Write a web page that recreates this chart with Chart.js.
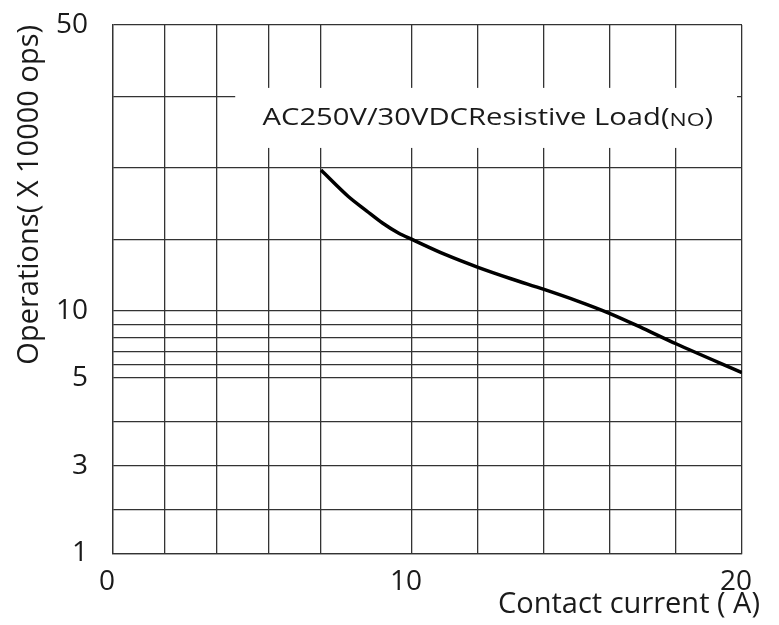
<!DOCTYPE html>
<html>
<head>
<meta charset="utf-8">
<script src="https://cdn.jsdelivr.net/npm/chart.js@4/dist/chart.umd.min.js"></script>
<style>
  html, body { margin: 0; padding: 0; background: #fff; }
  #wrap { width: 779px; height: 625px; }
</style>
</head>
<body>
<div id="wrap"><canvas id="lifeChart"></canvas></div>
<script>
// Grid and tick values
const xGrid = [0, 2, 4, 6, 8, 10, 12, 14, 16, 18, 20];
const xLabels = [0, 10, 20];
const yGrid = [1, 2, 3, 4, 5, 6, 7, 8, 9, 10, 20, 30, 40, 50];
const yLabels = [1, 3, 5, 10, 50];

// Curve: contact current (A) vs operations (x 10000)
const current = [8, 8.6, 9.0, 9.35, 9.7, 10, 11, 12, 13, 14, 15, 16, 17, 18, 20];
const operations = [29.7, 26.0, 24.0, 22.3, 20.9, 20, 17.9, 16.1, 14.5, 13.0, 11.4, 9.8, 8.7, 7.55, 5.4];

// The chart paper is not linear: each axis is split in pieces of its own
const scaleKnots = {
    x: { values: [0, 8, 10, 20], fractions: [0, 0.3307, 0.4754, 1] },
    y: { values: [1, 5, 10, 50], fractions: [0, 0.332, 0.459, 1] }
};

class PiecewiseScale extends Chart.LinearScale {
    getPixelForValue(value) {
        if (value === null || value === undefined || isNaN(value)) return NaN;
        const k = scaleKnots[this.id];
        const v = k.values, f = k.fractions;
        let i = 0;
        while (i < v.length - 2 && value > v[i + 1]) i++;
        const frac = f[i] + (value - v[i]) / (v[i + 1] - v[i]) * (f[i + 1] - f[i]);
        return this.getPixelForDecimal(frac);
    }
    getValueForPixel(pixel) {
        const k = scaleKnots[this.id];
        const v = k.values, f = k.fractions;
        const d = this.getDecimalForPixel(pixel);
        let i = 0;
        while (i < f.length - 2 && d > f[i + 1]) i++;
        return v[i] + (d - f[i]) / (f[i + 1] - f[i]) * (v[i + 1] - v[i]);
    }
}
PiecewiseScale.id = 'piecewise';
PiecewiseScale.defaults = Chart.LinearScale.defaults;
Chart.register(PiecewiseScale);

// White label box sitting on top of the grid
const boxLabel = {
    id: 'boxLabel',
    beforeDatasetsDraw(chart) {
        const { ctx, scales: { x, y } } = chart;
        const left = x.getPixelForValue(4.7);
        const right = x.getPixelForValue(19.85);
        const top = y.getPixelForValue(41.2);
        const bottom = y.getPixelForValue(32.8);
        ctx.save();
        ctx.fillStyle = '#fff';
        ctx.fillRect(left, top, right - left, bottom - top);
        ctx.fillStyle = '#1a1a1a';
        ctx.textBaseline = 'middle';
        const ty = (top + bottom) / 2 + 1;
        // the lettering in the source is drawn wide, so stretch it sideways
        ctx.translate(x.getPixelForValue(5.75), ty);
        ctx.scale(1.27, 1);
        let tx = 0;
        const parts = [
            ['AC250V/30VDC', 23],
            ['Resistive Load(', 23],
            ['NO', 18],
            [')', 23]
        ];
        for (const [txt, size] of parts) {
            ctx.font = size + 'px "Open Sans"';
            ctx.fillText(txt, tx, size < 23 ? 2 : 0);
            tx += ctx.measureText(txt).width;
        }
        ctx.restore();
    }
};

const gridColor = '#333';

new Chart(document.getElementById('lifeChart'), {
    type: 'line',
    data: {
        datasets: [{
            label: 'Operations',
            data: current.map((c, i) => ({ x: c, y: operations[i] })),
            borderColor: '#000',
            borderWidth: 3.5,
            pointRadius: 0,
            cubicInterpolationMode: 'monotone',
            fill: false
        }]
    },
    options: {
        responsive: true,
        maintainAspectRatio: false,
        animation: false,
        layout: {
            padding: { top: 25, left: 0, right: 19, bottom: 0 }
        },
        plugins: {
            legend: { display: false },
            tooltip: { enabled: false },
            title: {
                display: true,
                position: 'bottom',
                align: 'end',
                text: 'Contact current ( A)',
                color: '#1a1a1a',
                font: { family: 'Open Sans', size: 29, weight: 'normal', lineHeight: 0.571 },
                padding: { top: 0, bottom: 12 }
            }
        },
        scales: {
            x: {
                type: 'piecewise',
                min: 0,
                max: 20,
                afterBuildTicks: axis => { axis.ticks = xGrid.map(v => ({ value: v })); },
                afterFit: axis => { axis.height = 43; },
                grid: { color: gridColor, lineWidth: 1.3, drawTicks: false },
                border: { color: gridColor, width: 1.3 },
                ticks: {
                    autoSkip: false,
                    maxRotation: 0,
                    padding: 15,
                    labelOffset: -6,
                    color: '#1a1a1a',
                    font: { family: 'Open Sans', size: 28, lineHeight: 1 },
                    callback: v => xLabels.includes(v) ? String(v) : ''
                }
            },
            y: {
                type: 'piecewise',
                min: 1,
                max: 50,
                afterBuildTicks: axis => { axis.ticks = yGrid.map(v => ({ value: v })); },
                afterFit: axis => { axis.width = 113; },
                // invisible tick marks push the labels away from the plot
                grid: { color: gridColor, lineWidth: 1.3, drawTicks: true, tickLength: 22, tickColor: 'rgba(0,0,0,0)' },
                border: { color: gridColor, width: 1.3 },
                title: {
                    display: true,
                    text: 'Operations( X 10000 ops)',
                    align: 'end',
                    color: '#1a1a1a',
                    font: { family: 'Open Sans', size: 29 },
                    padding: { top: 12, bottom: 0 }
                },
                ticks: {
                    autoSkip: false,
                    padding: 3,
                    color: '#1a1a1a',
                    font: { family: 'Open Sans', size: 28 },
                    callback: v => yLabels.includes(v) ? String(v) : ''
                }
            },
            yRight: {
                type: 'linear',
                position: 'right',
                afterFit: axis => { axis.width = 18; },
                grid: { display: false },
                border: { display: false },
                ticks: { display: false }
            }
        }
    },
    plugins: [boxLabel]
});
</script>
</body>
</html>
